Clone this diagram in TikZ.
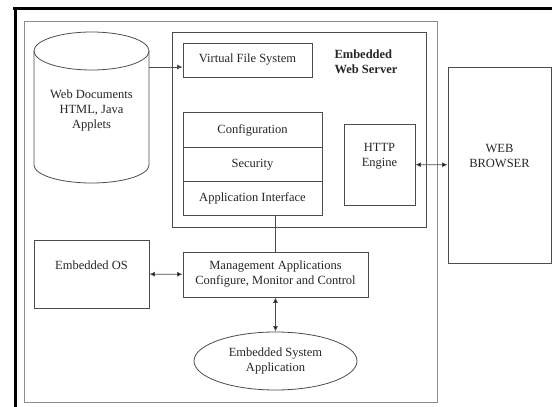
\documentclass[tikz,border=0pt]{standalone}
\usepackage{fontspec}
\setmainfont{Liberation Serif}
\usetikzlibrary{positioning,arrows.meta,shapes}

\begin{document}
\begin{tikzpicture}[
    x = 1pt, y = -1pt,
    > = {Latex[length=5.5pt,width=5pt]},
    font = \fontsize{12.5}{15}\selectfont,
    line/.style={draw=black!70, line width=0.8pt},
    box/.style={rectangle, line, inner sep=0pt, align=center, text=black!85},
    layer/.style={box, outer sep=0pt, minimum width=139pt, minimum height=34.3pt},
    border/.style={draw=black, line width=3pt}
]
    \useasboundingbox (0,0) rectangle (552,407);

    % page border
    \draw[border] (15,7.3) -- (15,407);
    \draw[border, line width=2.7pt] (13.3,8.7) -- (552,8.7);

    % frames
    \node[box, draw=black!45, line width=1pt, minimum width=413pt, minimum height=381pt] (device) at (230.5,211.5) {};
    \node[box, minimum width=254pt, minimum height=195pt] (server) at (299,129.5) {};
    \node[anchor=west, align=left, font=\fontsize{12.5}{15}\selectfont\bfseries, text=black!85] (title) at (331,62) {Embedded\\Web Server};

    % document store
    \draw[line] (34,51) -- (34,165) arc[start angle=180, end angle=0, x radius=57.5, y radius=18] -- (149,51);
    \draw[line] (91.5,51) ellipse[x radius=57.5, y radius=19];
    \node[align=center, text=black!85] (docs) at (91.5,110) {Web Documents\\HTML, Java\\Applets};
    \coordinate (docs-out) at (149,67);

    \node[box, minimum width=129pt, minimum height=34pt] (vfs) at (247.5,60) {Virtual File System};

    % server layers
    \node[layer] (config) at (252.5,130) {Configuration};
    \node[layer, below=0pt of config] (security) {Security};
    \node[layer, below=0pt of security] (appif) {Application Interface};

    \node[box, minimum width=71pt, minimum height=81pt] (http) at (379.5,164.5) {HTTP\\Engine\\[4pt]};
    \node[box, minimum width=103pt, minimum height=196pt] (browser) at (499.5,165) {WEB\\BROWSER\\[4pt]};

    \node[box, minimum width=115pt, minimum height=68pt] (eos) at (91.5,274) {Embedded OS\\[3pt]};
    \node[box, minimum width=185pt, minimum height=45pt] (mgmt) at (275.5,274.5) {Management Applications\\Configure, Monitor and Control};
    \node[ellipse, line, inner sep=0pt, minimum width=163pt, minimum height=58pt, align=center, text=black!85] (app) at (275.5,361) {Embedded System\\Application};

    \draw[line, ->] (docs-out) -- (docs-out -| vfs.west);
    \draw[line] (mgmt.north |- appif.south) -- (mgmt.north);
    \path[line, <->]
        (http) edge (browser)
        (eos) edge (mgmt)
        (mgmt) edge (app);
\end{tikzpicture}
\end{document}
